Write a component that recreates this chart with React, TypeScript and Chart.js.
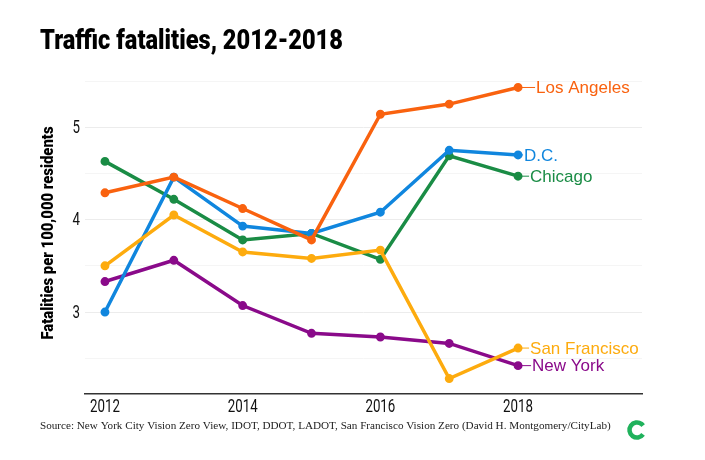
import { useEffect, useRef } from "react"
import { Chart, registerables, type Plugin } from "chart.js"

Chart.register(...registerables)

// Values
const years = [2012, 2013, 2014, 2015, 2016, 2017, 2018]
const losAngeles = [4.29, 4.46, 4.12, 3.78, 5.14, 5.25, 5.43]
const sanFrancisco = [3.5, 4.05, 3.65, 3.58, 3.67, 2.28, 2.61]
const dc = [3.0, 4.46, 3.93, 3.85, 4.08, 4.75, 4.7]
const chicago = [4.63, 4.22, 3.78, 3.85, 3.57, 4.69, 4.47]
const newYork = [3.33, 3.56, 3.07, 2.77, 2.73, 2.66, 2.42]

const seriesNames = ["Los Angeles", "San Francisco", "D.C.", "Chicago", "New York"]
const seriesValues = [losAngeles, sanFrancisco, dc, chicago, newYork]
const seriesColors = ["#f9620f", "#fdab0e", "#1086de", "#1a8c45", "#8a0a8a"]

const xTicks = [2012, 2014, 2016, 2018]
const yTicks = [2.5, 3, 3.5, 4, 4.5, 5, 5.5]
const yLabels = [3, 4, 5]

const titleText = "Traffic fatalities, 2012-2018"
const yAxisText = "Fatalities per 100,000 residents"
const sourceText = "Source: New York City Vision Zero View, IDOT, DDOT, LADOT, San Francisco Vision Zero (David H. Montgomery/CityLab)"

// distance from the last point to the label text, per series
const labelGaps = [18, 12, 6, 12, 14]

// no condensed DIN is installed, so squeeze Roboto horizontally
function narrowText(
  ctx: CanvasRenderingContext2D,
  text: string,
  x: number,
  y: number,
  font: string,
  squeeze: number,
  align: CanvasTextAlign,
  rotated = false,
) {
  ctx.save()
  ctx.font = font
  ctx.textAlign = align
  ctx.textBaseline = "middle"
  ctx.translate(x, y)
  if (rotated) ctx.rotate(-Math.PI / 2)
  ctx.scale(squeeze, 1)
  ctx.fillText(text, 0, 0)
  ctx.restore()
}

const din: Plugin<"line"> = {
  id: "din",
  afterDraw(chart) {
    const ctx = chart.ctx
    ctx.save()
    ctx.fillStyle = "#000"
    const titleFont = "900 27.5px Roboto"
    ctx.font = titleFont
    narrowText(ctx, titleText, 40, 42, titleFont, 303 / ctx.measureText(titleText).width, "left")

    const axisFont = "900 17px Roboto"
    ctx.font = axisFont
    narrowText(ctx, yAxisText, 49, 233, axisFont, 213 / ctx.measureText(yAxisText).width, "center", true)

    ctx.fillStyle = "#111"
    const tickFont = "19px Roboto"
    xTicks.forEach((v) => {
      narrowText(ctx, String(v), chart.scales.x.getPixelForValue(v), 407, tickFont, 0.7, "center")
    })
    yLabels.forEach((v) => {
      narrowText(ctx, String(v), 80, chart.scales.y.getPixelForValue(v) + 1, tickFont, 0.7, "right")
    })
    ctx.restore()
  },
}

// city names at the end of each line, with a thin leader
const endLabels: Plugin<"line"> = {
  id: "endLabels",
  afterDatasetsDraw(chart) {
    const ctx = chart.ctx
    ctx.save()
    ctx.font = "17px 'Liberation Sans', Arial, sans-serif"
    ctx.textBaseline = "middle"
    seriesNames.forEach((name, i) => {
      const pt = chart.getDatasetMeta(i).data[years.length - 1]
      const gap = labelGaps[i]
      ctx.strokeStyle = seriesColors[i]
      ctx.fillStyle = seriesColors[i]
      ctx.lineWidth = 1
      ctx.beginPath()
      ctx.moveTo(pt.x, pt.y)
      ctx.lineTo(pt.x + gap - 1, pt.y)
      ctx.stroke()
      ctx.fillText(name, pt.x + gap, pt.y + 1)
    })
    ctx.restore()
  },
}

// CityLab mark in the bottom right corner
const logo: Plugin<"line"> = {
  id: "logo",
  afterDraw(chart) {
    const ctx = chart.ctx
    ctx.save()
    ctx.strokeStyle = "#20b25c"
    ctx.lineWidth = 4.5
    ctx.beginPath()
    ctx.arc(637, 430, 7.5, 0.2 * Math.PI, 1.8 * Math.PI)
    ctx.stroke()
    ctx.restore()
  },
}

export default function App() {
  const canvasRef = useRef<HTMLCanvasElement>(null)

  useEffect(() => {
    if (!canvasRef.current) return

    const chart = new Chart(canvasRef.current, {
      type: "line",
      data: {
        labels: years,
        datasets: seriesNames.map((name, i) => ({
          label: name,
          data: years.map((y, j) => ({ x: y, y: seriesValues[i][j] })),
          borderColor: seriesColors[i],
          backgroundColor: seriesColors[i],
          borderWidth: 3.5,
          pointRadius: 2.7,
          pointHoverRadius: 2.7,
          tension: 0,
        })),
      },
      options: {
        responsive: false,
        animation: false,
        layout: { padding: { left: 40, right: 63, top: 81, bottom: 0 } },
        plugins: {
          legend: { display: false },
          tooltip: { enabled: false },
          subtitle: {
            display: true,
            text: sourceText,
            position: "bottom",
            align: "start",
            color: "#222",
            font: { family: "'Liberation Serif', serif", size: 11.15, lineHeight: 1 },
            padding: { top: 5, bottom: 28.5 },
          },
        },
        scales: {
          x: {
            type: "linear",
            min: 2011.71,
            max: 2019.8,
            afterBuildTicks: (axis) => {
              axis.ticks = xTicks.map((value) => ({ value }))
            },
            afterFit: (axis) => {
              axis.height = 22
            },
            grid: { display: false },
            border: { color: "#333", width: 1.5 },
            ticks: { display: false },
          },
          y: {
            min: 2.12,
            max: 5.5,
            afterBuildTicks: (axis) => {
              axis.ticks = yTicks.map((value) => ({ value }))
            },
            afterFit: (axis) => {
              axis.width = 45
            },
            grid: {
              drawTicks: false,
              color: (c) => (Number.isInteger(c.tick.value) ? "#ececec" : "#f5f5f5"),
            },
            border: { display: false },
            ticks: { display: false },
          },
        },
      },
      plugins: [endLabels, din, logo],
    })

    return () => chart.destroy()
  }, [])

  return (
    <div style={{ position: "absolute", left: 0, top: 0, width: 705, height: 460 }}>
      <canvas ref={canvasRef} width={705} height={460} />
    </div>
  )
}
